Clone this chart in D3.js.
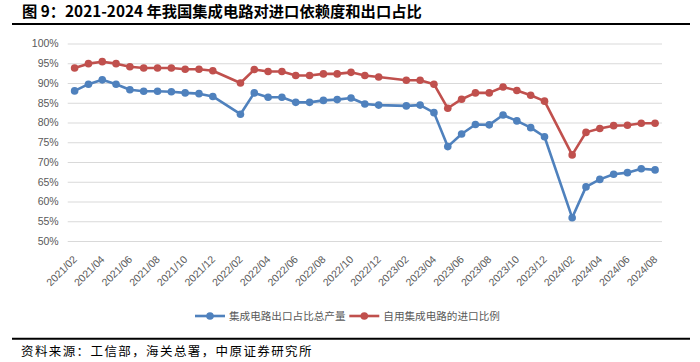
<!DOCTYPE html>
<html>
<head>
<meta charset="utf-8">
<script src="https://cdnjs.cloudflare.com/ajax/libs/d3/7.8.5/d3.min.js"></script>
<style>
body { margin:0; background:#fff; }
svg { display:block; }
.tick text { font-family:"Liberation Sans", Arial, sans-serif; fill:#595959; }
</style>
</head>
<body>
<div class="chart-container"></div>
<script>
var months = [
	"2021/02","2021/03","2021/04","2021/05","2021/06","2021/07","2021/08","2021/09","2021/10","2021/11","2021/12",
	"2022/01","2022/02","2022/03","2022/04","2022/05","2022/06","2022/07","2022/08","2022/09","2022/10","2022/11","2022/12",
	"2023/01","2023/02","2023/03","2023/04","2023/05","2023/06","2023/07","2023/08","2023/09","2023/10","2023/11","2023/12",
	"2024/01","2024/02","2024/03","2024/04","2024/05","2024/06","2024/07","2024/08"];

// 集成电路出口占比总产量 (%), 1月无数据
var exportShare = [
	88.0, 89.7, 90.8, 89.7, 88.3, 87.9, 87.9, 87.8, 87.5, 87.3, 86.6,
	null, 82.1, 87.5, 86.4, 86.4, 85.1, 85.1, 85.6, 85.8, 86.2, 84.7, 84.4,
	null, 84.2, 84.4, 82.5, 73.9, 77.1, 79.5, 79.4, 81.9, 80.4, 78.7, 76.4,
	null, 55.9, 63.7, 65.6, 66.9, 67.3, 68.3, 68.0];

// 自用集成电路的进口比例 (%)
var importRatio = [
	93.8, 94.9, 95.4, 94.9, 94.1, 93.8, 93.8, 93.8, 93.5, 93.5, 93.1,
	null, 90.0, 93.4, 92.9, 92.9, 91.9, 91.9, 92.3, 92.3, 92.7, 91.9, 91.5,
	null, 90.7, 90.7, 89.7, 83.6, 85.9, 87.5, 87.5, 89.0, 88.1, 86.9, 85.4,
	null, 71.8, 77.5, 78.5, 79.2, 79.3, 79.8, 79.8];

var yTicks = [50, 55, 60, 65, 70, 75, 80, 85, 90, 95, 100];
var xTicks = months.filter(function(d, i){ return i % 2 == 0; });

var seriesNames = ["集成电路出口占比总产量", "自用集成电路的进口比例"];
var seriesColors = ["#4F81BD", "#C0504D"];

var width = 700, height = 362;
var plot = {left:67.7, right:662, top:43.5, bottom:241};

var svg = d3.select(".chart-container").append("svg")
	.attr("width", width)
	.attr("height", height);

var x = d3.scaleBand()
	.domain(months)
	.range([plot.left, plot.right]);

var y = d3.scaleLinear()
	.domain([50, 100])
	.range([plot.bottom, plot.top]);

// title
svg.append("text")
	.attr("x", 22)
	.attr("y", 17)
	.attr("font-family", "'Noto Sans CJK SC', sans-serif")
	.attr("font-size", 15.3)
	.attr("font-weight", "bold")
	.attr("fill", "#000")
	.text("图 9：2021-2024 年我国集成电路对进口依赖度和出口占比");

svg.append("line")
	.attr("x1", 12).attr("x2", 690)
	.attr("y1", 24).attr("y2", 24)
	.attr("stroke", "#000")
	.attr("stroke-width", 2);

// gridlines + y axis
var gy = svg.append("g")
	.attr("transform", "translate(" + plot.left + ",0)")
	.call(d3.axisLeft(y)
		.tickValues(yTicks)
		.tickSize(-(plot.right - plot.left))
		.tickPadding(9)
		.tickFormat(function(d){ return d + "%"; }));
gy.select(".domain").remove();
gy.selectAll(".tick line")
	.attr("stroke", "#d9d9d9")
	.attr("stroke-width", 1.2);
gy.selectAll(".tick text")
	.attr("font-size", 10.5);

// x axis
var gx = svg.append("g")
	.attr("transform", "translate(0," + plot.bottom + ")")
	.call(d3.axisBottom(x)
		.tickValues(xTicks)
		.tickSize(0));
gx.select(".domain").remove();
gx.selectAll(".tick text")
	.attr("x", 0)
	.attr("y", 0)
	.attr("dy", 0)
	.attr("font-size", 10.5)
	.attr("text-anchor", "end")
	.attr("transform", "translate(3,19) rotate(-45)");

var line = d3.line()
	.x(function(d){ return x(d.m) + x.bandwidth() / 2; })
	.y(function(d){ return y(d.v); });

[exportShare, importRatio].forEach(function(vals, k){
	var pts = months.map(function(m, i){ return {m:m, v:vals[i]}; })
		.filter(function(d){ return d.v != null; });

	svg.append("path")
		.datum(pts)
		.attr("fill", "none")
		.attr("stroke", seriesColors[k])
		.attr("stroke-width", 2.6)
		.attr("stroke-linejoin", "round")
		.attr("d", line);

	svg.append("g")
		.selectAll("circle")
		.data(pts)
		.enter().append("circle")
			.attr("cx", function(d){ return x(d.m) + x.bandwidth() / 2; })
			.attr("cy", function(d){ return y(d.v); })
			.attr("r", 3.8)
			.attr("fill", seriesColors[k]);
});

// legend
var legendX = [195, 349.3];
var gLegend = svg.append("g").attr("class", "legend");
seriesNames.forEach(function(name, k){
	var lx = legendX[k];
	gLegend.append("line")
		.attr("x1", lx).attr("x2", lx + 30)
		.attr("y1", 316).attr("y2", 316)
		.attr("stroke", seriesColors[k])
		.attr("stroke-width", 2.6);
	gLegend.append("circle")
		.attr("cx", lx + 15).attr("cy", 316)
		.attr("r", 3.8)
		.attr("fill", seriesColors[k]);
	gLegend.append("text")
		.attr("x", lx + 34)
		.attr("y", 319.8)
		.attr("font-family", "'Noto Sans CJK SC', sans-serif")
		.attr("font-size", 10.6)
		.attr("fill", "#595959")
		.text(name);
});

// source
svg.append("line")
	.attr("x1", 12).attr("x2", 690)
	.attr("y1", 338.7).attr("y2", 338.7)
	.attr("stroke", "#000")
	.attr("stroke-width", 2);

svg.append("text")
	.attr("x", 21)
	.attr("y", 356)
	.attr("font-family", "'Noto Sans CJK SC', sans-serif")
	.attr("font-size", 12.5)
	.attr("letter-spacing", 1.4)
	.attr("fill", "#000")
	.text("资料来源：工信部，海关总署，中原证券研究所");
</script>
</body>
</html>
